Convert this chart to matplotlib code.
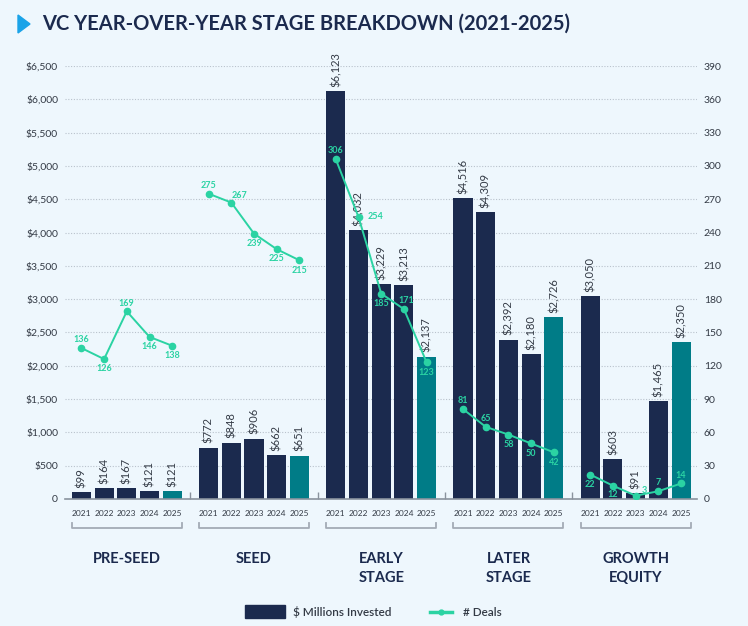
import matplotlib.pyplot as plt
import numpy as np
from matplotlib.patches import Polygon, Rectangle
from matplotlib.lines import Line2D
import matplotlib.transforms as mtransforms

# data
stages = ["PRE-SEED", "SEED", "EARLY\nSTAGE", "LATER\nSTAGE", "GROWTH\nEQUITY"]
years = ["2021", "2022", "2023", "2024", "2025"]
invested = [
    [99, 164, 167, 121, 121],
    [772, 848, 906, 662, 651],
    [6123, 4032, 3229, 3213, 2137],
    [4516, 4309, 2392, 2180, 2726],
    [3050, 603, 91, 1465, 2350],
]
deals = [
    [136, 126, 169, 146, 138],
    [275, 267, 239, 225, 215],
    [306, 254, 185, 171, 123],
    [81, 65, 58, 50, 42],
    [22, 12, 3, 7, 14],
]

# label placement for deal counts (offset points)
deal_off = [
    [(0, 6), (0, -7), (0, 6), (0, -7), (0, -7)],
    [(0, 6), (6, 5), (0, -7), (0, -7), (0, -7)],
    [(0, 6), (12, 0), (0, -7), (2, 6), (0, -7)],
    [(0, 6), (0, 6), (0, -7), (0, -7), (0, -7)],
    [(0, -7), (0, -6), (6, 4), (0, 6), (0, 6)],
]

NAVY = "#1b2a4e"
TEAL = "#007c87"
GREEN = "#2bd3a3"
BG = "#eef7fd"
TXT = "#333a45"

plt.rcParams["font.family"] = ["Lato", "DejaVu Sans"]

W, H = 748, 626
fig = plt.figure(figsize=(W / 100, H / 100), dpi=100, facecolor=BG)
ax = fig.add_axes([65 / W, 1 - 499 / H, 632 / W, 433 / H], facecolor=BG)
ax2 = ax.twinx()

STEP = 5.6
xs_all, lab_all = [], []
for g in range(len(stages)):
    xs = g * STEP + np.arange(len(years))
    cols = [NAVY] * 4 + [TEAL]
    ax.bar(xs, invested[g], width=0.84, color=cols, zorder=2)
    for x, v in zip(xs, invested[g]):
        ax.annotate(f"${v:,}", (x, v), xytext=(0, 3), textcoords="offset points",
                    rotation=90, ha="center", va="bottom", fontsize=8, color=TXT,
                    annotation_clip=False)
    ax2.plot(xs, deals[g], color=GREEN, lw=1.4, marker="o", ms=4.5, zorder=3)
    for x, v, (dx, dy) in zip(xs, deals[g], deal_off[g]):
        ax2.annotate(str(v), (x, v), xytext=(dx, dy), textcoords="offset points",
                     ha="center", va="center", fontsize=6.5, color=GREEN,
                     fontweight="bold")
    xs_all.extend(xs)
    lab_all.extend(years)

ax.set_xlim(-0.72, 4 * STEP + 4.7)
ax.set_ylim(0, 6500)
ax2.set_ylim(0, 390)
ax.set_yticks(np.arange(0, 6501, 500))
ax.set_yticklabels(["0"] + [f"${v:,}" for v in range(500, 6501, 500)])
ax2.set_yticks(np.arange(0, 391, 30))
ax.yaxis.grid(True, ls=(0, (1, 1.5)), color="#b9c2cc", lw=0.8, zorder=0)
ax.set_axisbelow(True)

for a in (ax, ax2):
    for s in ("left", "right", "top"):
        a.spines[s].set_visible(False)
    a.tick_params(axis="y", length=0, labelsize=7.5, labelcolor=TXT, pad=5)
ax2.spines["bottom"].set_visible(False)
ax.spines["bottom"].set_color("#8a939e")
ax.spines["bottom"].set_linewidth(1.2)

ax.set_xticks(xs_all)
ax.set_xticklabels(lab_all)
ax.tick_params(axis="x", length=0, labelsize=6, labelcolor=TXT, pad=8)
seps = [g * STEP + 4 + (STEP - 4) / 2 for g in range(len(stages) - 1)]
ax.set_xticks(seps, minor=True)
ax.tick_params(axis="x", which="minor", length=5, direction="in", color="#8a939e", width=1)

# brackets and stage names
trans = mtransforms.blended_transform_factory(ax.transData, ax.transAxes)
for g, name in enumerate(stages):
    x0 = g * STEP - 0.42
    x1 = g * STEP + 4.42
    ax.plot([x0, x0, x1, x1], [-0.055, -0.068, -0.068, -0.055], transform=trans,
            color="#a3abb5", lw=1.3, clip_on=False)
    ax.text(g * STEP + 2, -0.123, name, transform=trans, ha="center", va="top",
            fontsize=10.5, fontweight="bold", color=NAVY, linespacing=1.45)

# title
tri = Polygon([[18 / W, 1 - 15 / H], [18 / W, 1 - 33 / H], [30 / W, 1 - 24 / H]],
              closed=True, transform=fig.transFigure, color="#1aa3e8")
fig.patches.append(tri)
fig.text(42 / W, 1 - 24 / H, "VC YEAR-OVER-YEAR STAGE BREAKDOWN (2021-2025)",
         fontsize=14.5, fontweight="bold", color=NAVY, va="center", ha="left")

# legend, drawn by hand in figure pixels
ly = 1 - 612 / H
fig.patches.append(Rectangle((245 / W, 1 - 618 / H), 40 / W, 13 / H,
                             transform=fig.transFigure, color=NAVY))
fig.text(293 / W, ly, "$ Millions Invested", fontsize=8.5, color=TXT,
         va="center", ha="left", fontweight="semibold")
fig.lines.append(Line2D([430 / W, 452 / W], [ly, ly], transform=fig.transFigure,
                        color=GREEN, lw=2.5))
fig.lines.append(Line2D([441 / W], [ly], transform=fig.transFigure, color=GREEN,
                        marker="o", ms=3.5))
fig.text(463 / W, ly, "# Deals", fontsize=8.5, color=TXT, va="center", ha="left",
         fontweight="semibold")

fig.savefig("out.png", dpi=100, facecolor=BG)
